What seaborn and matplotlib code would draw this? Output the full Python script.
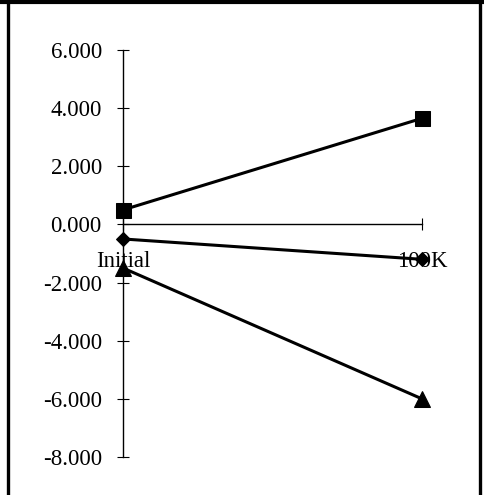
import numpy as np
import pandas as pd
import matplotlib
matplotlib.use("Agg")
import matplotlib.pyplot as plt
import seaborn as sns
from matplotlib.lines import Line2D

sns.set_style("white")
plt.rcParams['font.family'] = ['Liberation Serif', 'DejaVu Serif']
plt.rcParams['axes.unicode_minus'] = False

# --------------------------------------------------
categories = ["Initial", "100K"]
square_vals = [0.50, 3.65]
diamond_vals = [-0.50, -1.20]
triangle_vals = [-1.50, -6.00]
y_ticks = [-8, -6, -4, -2, 0, 2, 4, 6]

W, H = 484, 495
fig = plt.figure(figsize=(W / 100, H / 100), dpi=100)
ax = fig.add_axes([123 / W, (H - 457) / H, (422 - 123) / W, (457 - 50) / H])

series = [
    (square_vals, "s", 10.8),
    (diamond_vals, "D", 7.4),
    (triangle_vals, "^", 11.0),
]
for vals, mk, ms in series:
    d = pd.DataFrame({"cat": categories, "val": vals})
    sns.lineplot(data=d, x="cat", y="val", ax=ax, color="black", linewidth=2.2,
                 marker=mk, markersize=ms, markeredgecolor="black",
                 markerfacecolor="black", clip_on=False, zorder=3)

ax.set_xlim(0, 1)
ax.set_ylim(-8, 6)
ax.set_yticks(y_ticks)
ax.set_yticklabels([f"{v:.3f}" for v in y_ticks])
ax.set_xticks([0, 1])
ax.set_xticklabels(categories)
ax.set_xlabel("")
ax.set_ylabel("")

for s in ["top", "right"]:
    ax.spines[s].set_visible(False)
ax.spines["bottom"].set_position(("data", 0))
for s in ["left", "bottom"]:
    ax.spines[s].set_linewidth(1.0)
    ax.spines[s].set_color("black")

ax.tick_params(axis="y", direction="inout", length=8.6, width=0.8, pad=11,
               labelsize=16.5, colors="black", left=True)
ax.tick_params(axis="x", direction="inout", length=8.6, width=0.8, pad=15,
               labelsize=16.5, colors="black", bottom=True)
ax.patch.set_visible(False)

# outer chart frame: thick top bar across the width, thin sides running off the bottom
tf = fig.transFigure
fig.lines.append(Line2D([0, 1], [1 - 2 / H, 1 - 2 / H], transform=tf,
                        color="black", linewidth=3.0, solid_capstyle="butt"))
fig.lines.append(Line2D([7.5 / W, 7.5 / W], [0, 1], transform=tf,
                        color="black", linewidth=2.4, solid_capstyle="butt"))
fig.lines.append(Line2D([480 / W, 480 / W], [0, 1], transform=tf,
                        color="black", linewidth=2.4, solid_capstyle="butt"))

fig.savefig("out.png", dpi=100)
